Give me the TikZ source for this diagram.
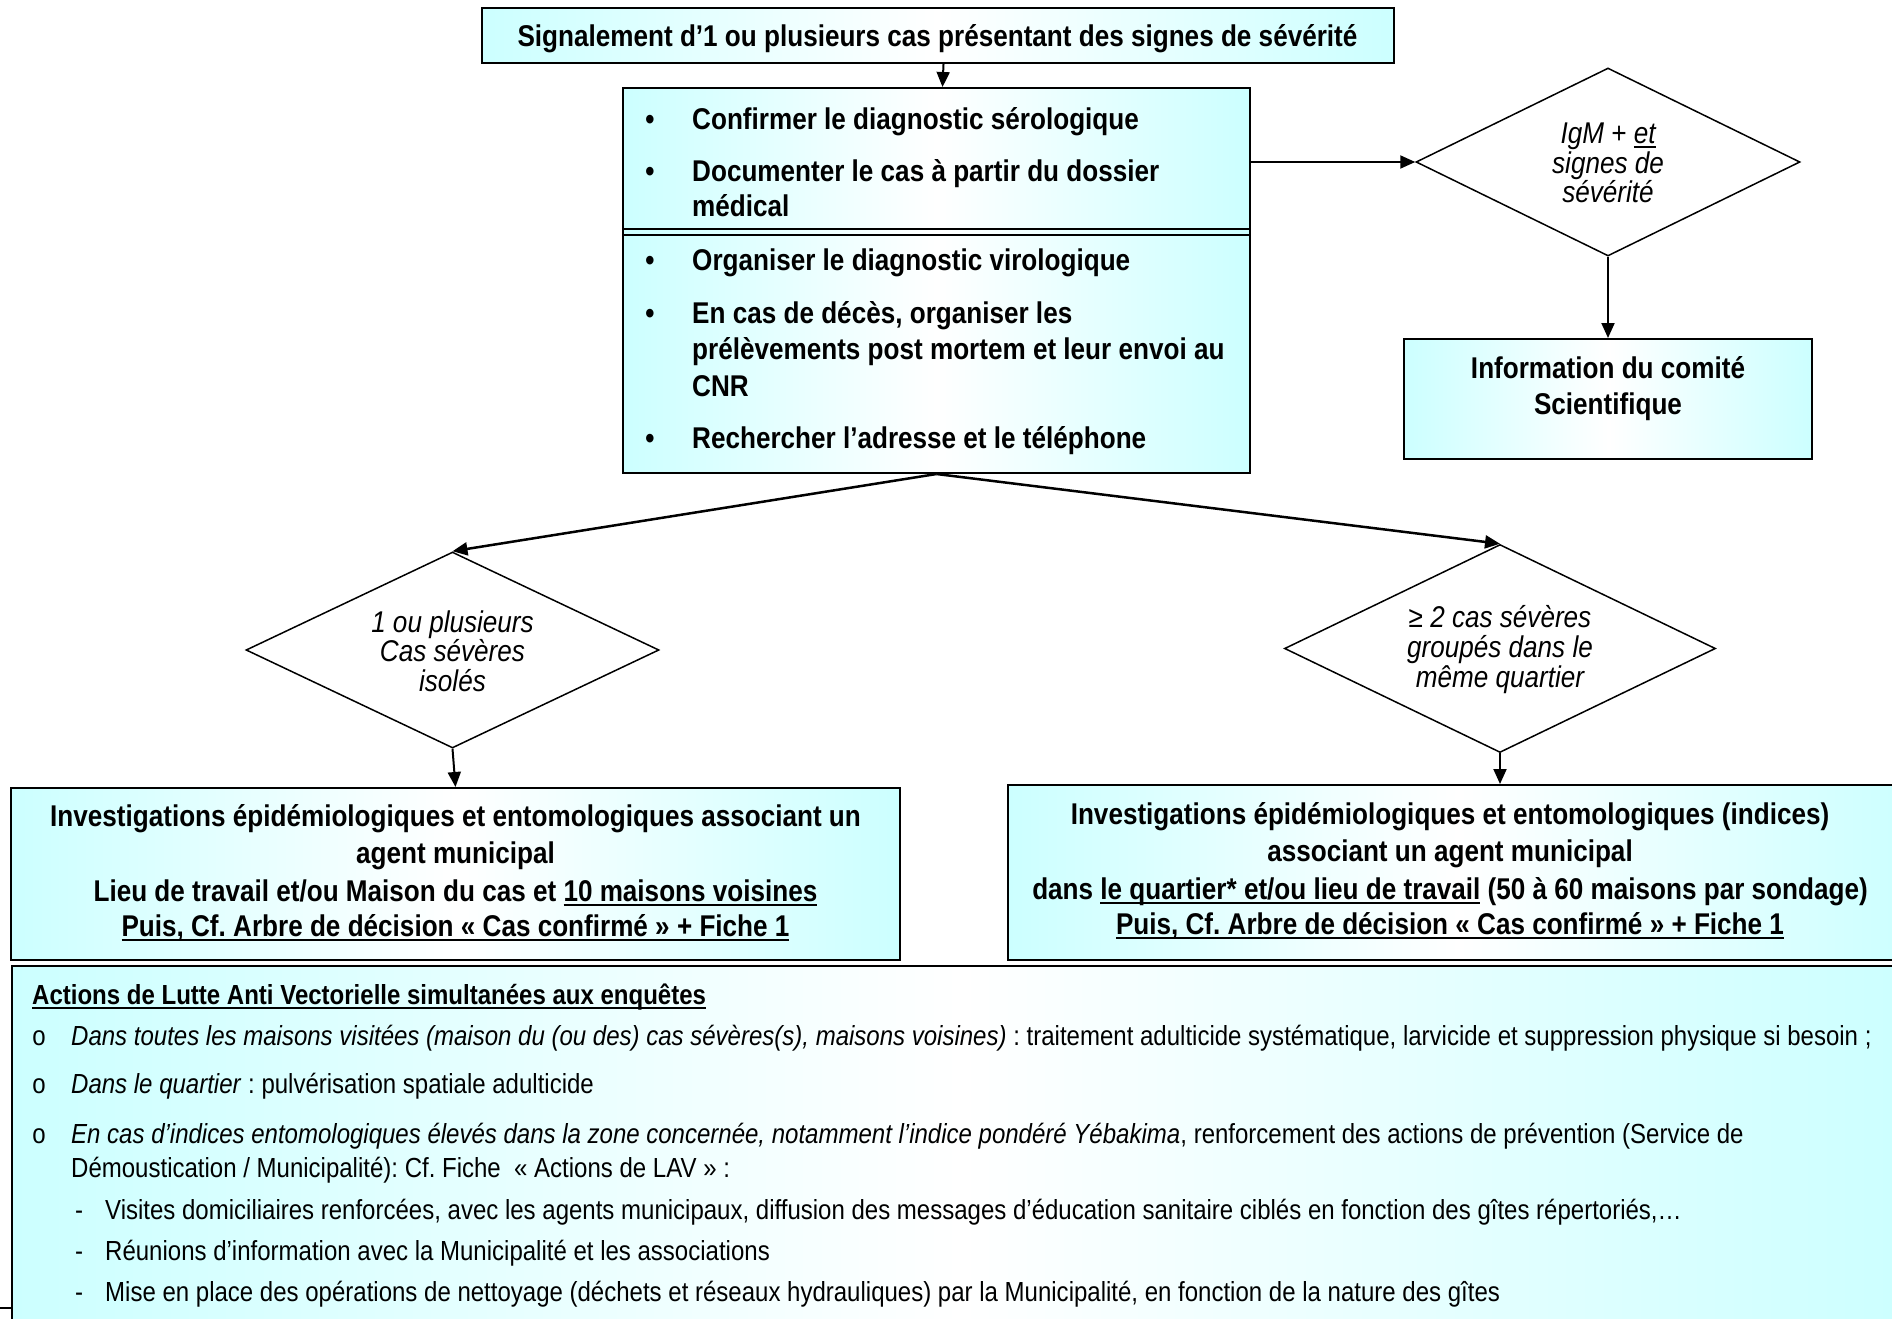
\documentclass[tikz,border=0pt]{standalone}
\usepackage{fontspec}
\setmainfont{Liberation Sans}[FakeStretch=0.87]
\usetikzlibrary{positioning,shapes.geometric,arrows.meta}

\definecolor{boxcyan}{RGB}{204,255,255}
\newcommand{\undl}[1]{\leavevmode\setbox0=\hbox{#1}\rlap{\rule[-4.5pt]{\wd0}{2pt}}\box0\relax}
\newcommand{\boxfont}{\fontsize{30}{35}\selectfont}
\newcommand{\lavfont}{\fontsize{27.6}{33}\selectfont}
\frenchspacing

\tikzset{
	box/.style={draw=black,line width=2pt,left color=boxcyan,right color=boxcyan,middle color=white,inner sep=0pt},
	decision/.style={diamond,draw=black,line width=1.5pt,fill=white,inner sep=0pt,aspect=2},
	txt/.style={anchor=base,inner sep=0pt,font=\boxfont\bfseries},
	dectxt/.style={anchor=base,inner sep=0pt,font=\boxfont\itshape},
	lavtxt/.style={anchor=base west,inner sep=0pt,font=\lavfont},
	arrow/.style={-{Stealth[inset=0pt,length=15pt,width=13pt]},line width=2pt},
}

\begin{document}
\begin{tikzpicture}[x=1pt,y=-1pt]
			\useasboundingbox (0,0) rectangle (1892,1319);
			
			\node[box,minimum width=912pt,minimum height=55pt] (signal) at (937.5,35.5) {};
			\node[txt] (signaltxt) at (937.5,47) {Signalement d’1 ou plusieurs cas présentant des signes de sévérité};
			
			\node[box,minimum width=627pt,minimum height=385pt] (actions) at (936.5,280.5) {};
			\draw[line width=2pt] ([yshift=-142pt]actions.north west) -- ([yshift=-142pt]actions.north east);
			\draw[line width=2pt] ([yshift=-148pt]actions.north west) -- ([yshift=-148pt]actions.north east);
			\node[txt] (b1) at (650,130) {•};
			\node[txt,anchor=base west] (a1) at (692,130) {Confirmer le diagnostic sérologique};
			\node[txt] (b2) at (650,181) {•};
			\node[txt,anchor=base west] (a2) at (692,181) {Documenter le cas à partir du dossier};
			\node[txt,anchor=base west] (a2b) at (692,216) {médical};
			\node[txt] (b3) at (650,270) {•};
			\node[txt,anchor=base west] (a3) at (692,270) {Organiser le diagnostic virologique};
			\node[txt] (b4) at (650,323) {•};
			\node[txt,anchor=base west] (a4) at (692,323) {En cas de décès, organiser les};
			\node[txt,anchor=base west] (a4b) at (692,359) {prélèvements post mortem et leur envoi au};
			\node[txt,anchor=base west] (a4c) at (692,396) {CNR};
			\node[txt] (b5) at (650,448) {•};
			\node[txt,anchor=base west] (a5) at (692,448) {Rechercher l’adresse et le téléphone};
			
			\node[decision,minimum width=384pt,minimum height=188pt] (igm) at (1608,162) {};
			\node[dectxt] (igm1) at (1608,143) {IgM + \undl{et}};
			\node[dectxt] (igm2) at (1608,173) {signes de};
			\node[dectxt] (igm3) at (1608,202) {sévérité};
			
			\node[box,minimum width=408pt,minimum height=120pt] (info) at (1608,399) {};
			\node[txt] (info1) at (1608,378) {Information du comité};
			\node[txt] (info2) at (1608,414) {Scientifique};
			
			\draw[arrow] ([xshift=6pt]signal.south) -- ([xshift=6pt]actions.north);
			\draw[arrow] (actions.east |- igm.west) -- (igm.west);
			\draw[arrow] (igm.south) -- (info.north);
			
			\node[decision,minimum width=413pt,minimum height=196pt] (isole) at (452.5,650) {};
			\node[dectxt] (iso1) at (452.5,632) {1 ou plusieurs};
			\node[dectxt] (iso2) at (452.5,661) {Cas sévères};
			\node[dectxt] (iso3) at (452.5,691) {isolés};
			
			\node[decision,minimum width=431pt,minimum height=208pt] (groupe) at (1500,648.5) {};
			\node[dectxt] (grp1) at (1500,627) {≥ 2 cas sévères};
			\node[dectxt] (grp2) at (1500,657) {groupés dans le};
			\node[dectxt] (grp3) at (1500,687) {même quartier};
			
			\draw[arrow,line width=2.5pt] (actions.south) -- (isole.north);
			\draw[arrow,line width=2.5pt] (actions.south) -- (groupe.north);
			
			\node[box,minimum width=889pt,minimum height=172pt] (invg) at (455.5,874) {};
			\node[txt] (invg1) at (455.5,826) {Investigations épidémiologiques et entomologiques associant un};
			\node[txt] (invg2) at (455.5,863) {agent municipal};
			\node[txt] (invg3) at (455.5,901) {Lieu de travail et/ou Maison du cas et \undl{10 maisons voisines}};
			\node[txt] (invg4) at (455.5,936) {\undl{Puis, Cf. Arbre de décision « Cas confirmé » + Fiche 1}};
			
			\node[box,minimum width=902pt,minimum height=175pt] (invd) at (1459,872.5) {};
			\node[txt] (invd1) at (1450,824) {Investigations épidémiologiques et entomologiques (indices)};
			\node[txt] (invd2) at (1450,861) {associant un agent municipal};
			\node[txt] (invd3) at (1450,899) {dans \undl{le quartier* et/ou lieu de travail} (50 à 60 maisons par sondage)};
			\node[txt] (invd4) at (1450,934) {\undl{Puis, Cf. Arbre de décision « Cas confirmé » + Fiche 1}};
			
			\draw[arrow] (isole.south) -- (invg.north);
			\draw[arrow] (groupe.south) -- (invd.north -| groupe.south);
			
			\node[box,minimum width=1898pt,minimum height=369pt] (lav) at (961,1150.5) {};
			\coordinate (frag) at (0,1308);
			\draw[line width=2pt] (frag) -- (frag -| lav.west);
			
			\node[lavtxt,font=\lavfont\bfseries] (lavtitle) at (32,1004) {\undl{Actions de Lutte Anti Vectorielle simultanées aux enquêtes}};
			\node[lavtxt,anchor=base] (o1) at (39,1045) {o};
			\node[lavtxt] (l1) at (71,1045) {\textit{Dans toutes les maisons visitées (maison du (ou des) cas sévères(s), maisons voisines)} : traitement adulticide systématique, larvicide et suppression physique si besoin ;};
			\node[lavtxt,anchor=base] (o2) at (39,1093) {o};
			\node[lavtxt] (l2) at (71,1093) {\textit{Dans le quartier} : pulvérisation spatiale adulticide};
			\node[lavtxt,anchor=base] (o3) at (39,1143) {o};
			\node[lavtxt] (l3) at (71,1143) {\textit{En cas d’indices entomologiques élevés dans la zone concernée, notamment l’indice pondéré Yébakima}, renforcement des actions de prévention (Service de};
			\node[lavtxt] (l3b) at (71,1177) {Démoustication / Municipalité): Cf. Fiche~ « Actions de LAV » :};
			\node[lavtxt,anchor=base] (d1) at (79,1219) {-};
			\node[lavtxt] (m1) at (105,1219) {Visites domiciliaires renforcées, avec les agents municipaux, diffusion des messages d’éducation sanitaire ciblés en fonction des gîtes répertoriés,…};
			\node[lavtxt,anchor=base] (d2) at (79,1260) {-};
			\node[lavtxt] (m2) at (105,1260) {Réunions d’information avec la Municipalité et les associations};
			\node[lavtxt,anchor=base] (d3) at (79,1301) {-};
			\node[lavtxt] (m3) at (105,1301) {Mise en place des opérations de nettoyage (déchets et réseaux hydrauliques) par la Municipalité, en fonction de la nature des gîtes};
\end{tikzpicture}
\end{document}
